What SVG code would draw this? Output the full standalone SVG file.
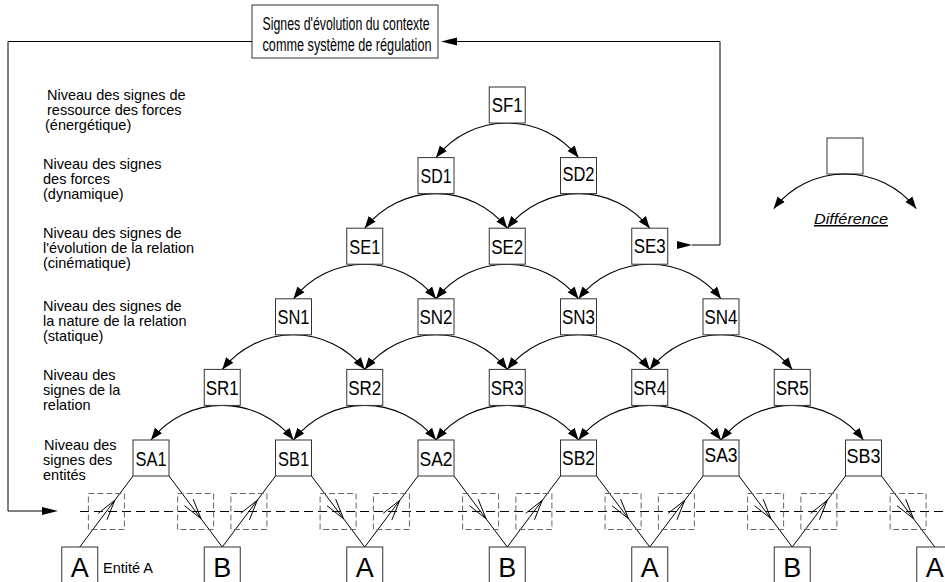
<svg xmlns="http://www.w3.org/2000/svg" width="945" height="582" viewBox="0 0 945 582">
<style>
  .box { fill: #fff; stroke: #333; stroke-width: 1; }
  .lbl { font-family: "Liberation Sans", Arial, sans-serif; font-size: 19.5px; fill: #000; text-anchor: middle; }
  .ent { font-family: "Liberation Sans", Arial, sans-serif; font-size: 27px; fill: #000; text-anchor: middle; }
  .side { font-family: "Liberation Sans", Arial, sans-serif; font-size: 14.5px; fill: #000; }
  .top { font-family: "Liberation Sans", Arial, sans-serif; font-size: 18px; fill: #000; text-anchor: middle; }
  .arc { fill: none; stroke: #000; stroke-width: 1.1; marker-end: url(#ah); }
  .ln { fill: none; stroke: #000; stroke-width: 1; }
  .dbox { fill: none; stroke: #666; stroke-width: 1; stroke-dasharray: 6 3; }
  .dline { fill: none; stroke: #000; stroke-width: 1; stroke-dasharray: 9 5; }
  .head { fill: #000; stroke: none; }
</style>
<defs>
  <marker id="ah" markerUnits="userSpaceOnUse" viewBox="0 0 12 10" refX="12" refY="5" markerWidth="12" markerHeight="10" orient="auto">
    <path d="M0,0.5 L12,5 L0,9.5 z" fill="#000"/>
  </marker>
</defs>

<!-- level labels -->
<g id="level-labels">
  <text class="side" x="47" y="100">Niveau des signes de</text>
  <text class="side" x="47" y="115">ressource des forces</text>
  <text class="side" x="45" y="130">(énergétique)</text>
  <text class="side" x="43" y="169">Niveau des signes</text>
  <text class="side" x="43" y="184">des forces</text>
  <text class="side" x="43" y="199">(dynamique)</text>
  <text class="side" x="43" y="238">Niveau des signes de</text>
  <text class="side" x="43" y="253">l'évolution de la relation</text>
  <text class="side" x="43" y="268">(cinématique)</text>
  <text class="side" x="43" y="311">Niveau des signes de</text>
  <text class="side" x="43" y="326">la nature de la relation</text>
  <text class="side" x="43" y="341">(statique)</text>
  <text class="side" x="43" y="380">Niveau des</text>
  <text class="side" x="43" y="395">signes de la</text>
  <text class="side" x="43" y="410">relation</text>
  <text class="side" x="44" y="450">Niveau des</text>
  <text class="side" x="43" y="465">signes des</text>
  <text class="side" x="43" y="480">entités</text>
</g>

<!-- context box -->
<g id="context">
  <rect class="box" x="252" y="5" width="186" height="53"/>
  <text class="top" x="346" y="30" textLength="167" lengthAdjust="spacingAndGlyphs">Signes d'évolution du contexte</text>
  <text class="top" x="347" y="51" textLength="169" lengthAdjust="spacingAndGlyphs">comme système de régulation</text>
</g>

<!-- connectors -->
<g id="connectors">
  <!-- arcs -->
  <path class="arc" d="M507.25,123 A90.66,90.66 0 0 0 436,157.6"/>
  <path class="arc" d="M507.25,123 A90.66,90.66 0 0 1 578.5,157.6"/>

  <path class="arc" d="M436,193.6 A90.66,90.66 0 0 0 364.75,228.2"/>
  <path class="arc" d="M436,193.6 A90.66,90.66 0 0 1 507.25,228.2"/>
  <path class="arc" d="M578.5,193.6 A90.66,90.66 0 0 0 507.25,228.2"/>
  <path class="arc" d="M578.5,193.6 A90.66,90.66 0 0 1 649.75,228.2"/>

  <path class="arc" d="M364.75,264.2 A90.66,90.66 0 0 0 293.5,298.8"/>
  <path class="arc" d="M364.75,264.2 A90.66,90.66 0 0 1 436,298.8"/>
  <path class="arc" d="M507.25,264.2 A90.66,90.66 0 0 0 436,298.8"/>
  <path class="arc" d="M507.25,264.2 A90.66,90.66 0 0 1 578.5,298.8"/>
  <path class="arc" d="M649.75,264.2 A90.66,90.66 0 0 0 578.5,298.8"/>
  <path class="arc" d="M649.75,264.2 A90.66,90.66 0 0 1 721,298.8"/>

  <path class="arc" d="M293.5,334.8 A90.66,90.66 0 0 0 222.25,369.4"/>
  <path class="arc" d="M293.5,334.8 A90.66,90.66 0 0 1 364.75,369.4"/>
  <path class="arc" d="M436,334.8 A90.66,90.66 0 0 0 364.75,369.4"/>
  <path class="arc" d="M436,334.8 A90.66,90.66 0 0 1 507.25,369.4"/>
  <path class="arc" d="M578.5,334.8 A90.66,90.66 0 0 0 507.25,369.4"/>
  <path class="arc" d="M578.5,334.8 A90.66,90.66 0 0 1 649.75,369.4"/>
  <path class="arc" d="M721,334.8 A90.66,90.66 0 0 0 649.75,369.4"/>
  <path class="arc" d="M721,334.8 A90.66,90.66 0 0 1 792.25,369.4"/>

  <path class="arc" d="M222.25,405.4 A90.66,90.66 0 0 0 151,440"/>
  <path class="arc" d="M222.25,405.4 A90.66,90.66 0 0 1 293.5,440"/>
  <path class="arc" d="M364.75,405.4 A90.66,90.66 0 0 0 293.5,440"/>
  <path class="arc" d="M364.75,405.4 A90.66,90.66 0 0 1 436,440"/>
  <path class="arc" d="M507.25,405.4 A90.66,90.66 0 0 0 436,440"/>
  <path class="arc" d="M507.25,405.4 A90.66,90.66 0 0 1 578.5,440"/>
  <path class="arc" d="M649.75,405.4 A90.66,90.66 0 0 0 578.5,440"/>
  <path class="arc" d="M649.75,405.4 A90.66,90.66 0 0 1 721,440"/>
  <path class="arc" d="M792.25,405.4 A90.66,90.66 0 0 0 721,440"/>
  <path class="arc" d="M792.25,405.4 A90.66,90.66 0 0 1 863.5,440"/>

  <!-- feedback loops -->
  <path class="ln" d="M252,41.5 H8 V511 H43"/>
  <polygon class="head" points="58,511 42,507 42,515"/>
  <polygon class="head" points="677,241 677,249 692,245"/>
  <path class="ln" d="M692,245 H720 V41.5 H456"/>
  <polygon class="head" points="441,41.5 457,37.5 457,45.5"/>

  <!-- dashed level line -->
  <path class="dline" d="M80,511.5 H945"/>

  <!-- entity to sign lines -->
  <path class="ln" d="M79.75,547 L133,476 M169,476 L222.25,547"/>
  <path class="ln" d="M222.25,547 L275.5,476 M311.5,476 L364.75,547"/>
  <path class="ln" d="M364.75,547 L418,476 M454,476 L507.25,547"/>
  <path class="ln" d="M507.25,547 L560.5,476 M596.5,476 L649.75,547"/>
  <path class="ln" d="M649.75,547 L703,476 M739,476 L792.25,547"/>
  <path class="ln" d="M792.25,547 L845.5,476 M881.5,476 L934.75,547"/>

  <!-- chevrons -->
  <path class="ln" d="M98.25,513.3 L114.75,500.3 L106.95,519.8 M193.2,499.2 L201,518.7 L184.5,505.7"/>
  <path class="ln" d="M240.75,513.3 L257.25,500.3 L249.45,519.8 M335.7,499.2 L343.5,518.7 L327,505.7"/>
  <path class="ln" d="M383.25,513.3 L399.75,500.3 L391.95,519.8 M478.2,499.2 L486,518.7 L469.5,505.7"/>
  <path class="ln" d="M525.75,513.3 L542.25,500.3 L534.45,519.8 M620.7,499.2 L628.5,518.7 L612,505.7"/>
  <path class="ln" d="M668.25,513.3 L684.75,500.3 L676.95,519.8 M763.2,499.2 L771,518.7 L754.5,505.7"/>
  <path class="ln" d="M810.75,513.3 L827.25,500.3 L819.45,519.8 M905.7,499.2 L913.5,518.7 L897,505.7"/>

  <!-- dashed boxes -->
  <rect class="dbox" x="88.4" y="493.5" width="36" height="36"/>
  <rect class="dbox" x="177.6" y="493.5" width="36" height="36"/>
  <rect class="dbox" x="230.9" y="493.5" width="36" height="36"/>
  <rect class="dbox" x="320.1" y="493.5" width="36" height="36"/>
  <rect class="dbox" x="373.4" y="493.5" width="36" height="36"/>
  <rect class="dbox" x="462.6" y="493.5" width="36" height="36"/>
  <rect class="dbox" x="515.9" y="493.5" width="36" height="36"/>
  <rect class="dbox" x="605.1" y="493.5" width="36" height="36"/>
  <rect class="dbox" x="658.4" y="493.5" width="36" height="36"/>
  <rect class="dbox" x="747.6" y="493.5" width="36" height="36"/>
  <rect class="dbox" x="800.9" y="493.5" width="36" height="36"/>
  <rect class="dbox" x="890.1" y="493.5" width="36" height="36"/>
</g>

<!-- sign nodes -->
<g id="SF1"><rect class="box" x="489.25" y="87" width="36" height="36"/><text class="lbl" x="507.25" y="112" textLength="31" lengthAdjust="spacingAndGlyphs">SF1</text></g>
<g id="SD1"><rect class="box" x="418" y="157.6" width="36" height="36"/><text class="lbl" x="436" y="183" textLength="31" lengthAdjust="spacingAndGlyphs">SD1</text></g>
<g id="SD2"><rect class="box" x="560.5" y="157.6" width="36" height="36"/><text class="lbl" x="578.5" y="181" textLength="32" lengthAdjust="spacingAndGlyphs">SD2</text></g>
<g id="SE1"><rect class="box" x="346.75" y="228.2" width="36" height="36"/><text class="lbl" x="364.75" y="253.5" textLength="31" lengthAdjust="spacingAndGlyphs">SE1</text></g>
<g id="SE2"><rect class="box" x="489.25" y="228.2" width="36" height="36"/><text class="lbl" x="507.25" y="253.5" textLength="32" lengthAdjust="spacingAndGlyphs">SE2</text></g>
<g id="SE3"><rect class="box" x="631.75" y="228.2" width="36" height="36"/><text class="lbl" x="649.75" y="252.5" textLength="32" lengthAdjust="spacingAndGlyphs">SE3</text></g>
<g id="SN1"><rect class="box" x="275.5" y="298.8" width="36" height="36"/><text class="lbl" x="293.5" y="324" textLength="32" lengthAdjust="spacingAndGlyphs">SN1</text></g>
<g id="SN2"><rect class="box" x="418" y="298.8" width="36" height="36"/><text class="lbl" x="436" y="324" textLength="33" lengthAdjust="spacingAndGlyphs">SN2</text></g>
<g id="SN3"><rect class="box" x="560.5" y="298.8" width="36" height="36"/><text class="lbl" x="578.5" y="324" textLength="33" lengthAdjust="spacingAndGlyphs">SN3</text></g>
<g id="SN4"><rect class="box" x="703" y="298.8" width="36" height="36"/><text class="lbl" x="721" y="324" textLength="33" lengthAdjust="spacingAndGlyphs">SN4</text></g>
<g id="SR1"><rect class="box" x="204.25" y="369.4" width="36" height="36"/><text class="lbl" x="222.25" y="394.5" textLength="33" lengthAdjust="spacingAndGlyphs">SR1</text></g>
<g id="SR2"><rect class="box" x="346.75" y="369.4" width="36" height="36"/><text class="lbl" x="364.75" y="394.5" textLength="33" lengthAdjust="spacingAndGlyphs">SR2</text></g>
<g id="SR3"><rect class="box" x="489.25" y="369.4" width="36" height="36"/><text class="lbl" x="507.25" y="394.5" textLength="33" lengthAdjust="spacingAndGlyphs">SR3</text></g>
<g id="SR4"><rect class="box" x="631.75" y="369.4" width="36" height="36"/><text class="lbl" x="649.75" y="394.5" textLength="33" lengthAdjust="spacingAndGlyphs">SR4</text></g>
<g id="SR5"><rect class="box" x="774.25" y="369.4" width="36" height="36"/><text class="lbl" x="792.25" y="394.5" textLength="33" lengthAdjust="spacingAndGlyphs">SR5</text></g>
<g id="SA1"><rect class="box" x="133" y="440" width="36" height="36"/><text class="lbl" x="151" y="466" textLength="31" lengthAdjust="spacingAndGlyphs">SA1</text></g>
<g id="SB1"><rect class="box" x="275.5" y="440" width="36" height="36"/><text class="lbl" x="293.5" y="466" textLength="31" lengthAdjust="spacingAndGlyphs">SB1</text></g>
<g id="SA2"><rect class="box" x="418" y="440" width="36" height="36"/><text class="lbl" x="436" y="466" textLength="33" lengthAdjust="spacingAndGlyphs">SA2</text></g>
<g id="SB2"><rect class="box" x="560.5" y="440" width="36" height="36"/><text class="lbl" x="578.5" y="465" textLength="33" lengthAdjust="spacingAndGlyphs">SB2</text></g>
<g id="SA3"><rect class="box" x="703" y="440" width="36" height="36"/><text class="lbl" x="721" y="462" textLength="33" lengthAdjust="spacingAndGlyphs">SA3</text></g>
<g id="SB3"><rect class="box" x="845.5" y="440" width="36" height="36"/><text class="lbl" x="863.5" y="463" textLength="34" lengthAdjust="spacingAndGlyphs">SB3</text></g>

<!-- entities -->
<g id="E1"><rect class="box" x="61.75" y="547" width="36" height="40"/><text class="ent" x="79.75" y="577">A</text></g>
<g id="E2"><rect class="box" x="204.25" y="547" width="36" height="40"/><text class="ent" x="222.25" y="577">B</text></g>
<g id="E3"><rect class="box" x="346.75" y="547" width="36" height="40"/><text class="ent" x="364.75" y="577">A</text></g>
<g id="E4"><rect class="box" x="489.25" y="547" width="36" height="40"/><text class="ent" x="507.25" y="577">B</text></g>
<g id="E5"><rect class="box" x="631.75" y="547" width="36" height="40"/><text class="ent" x="649.75" y="577">A</text></g>
<g id="E6"><rect class="box" x="774.25" y="547" width="36" height="40"/><text class="ent" x="792.25" y="577">B</text></g>
<g id="E7"><rect class="box" x="916.75" y="547" width="36" height="40"/><text class="ent" x="934.75" y="577">A</text></g>
<g id="entity-label"><text class="side" x="103" y="573">Entité A</text></g>

<!-- legend -->
<g id="legend">
  <rect class="box" x="827" y="138" width="36" height="36"/>
  <path class="arc" d="M845,174 A90.66,90.66 0 0 0 773.75,208.6"/>
  <path class="arc" d="M845,174 A90.66,90.66 0 0 1 916.25,208.6"/>
  <text x="814" y="224" font-family="Liberation Sans, Arial, sans-serif" font-size="15" font-style="italic" text-decoration="underline" textLength="74" lengthAdjust="spacingAndGlyphs">Différence</text>
</g>
</svg>
